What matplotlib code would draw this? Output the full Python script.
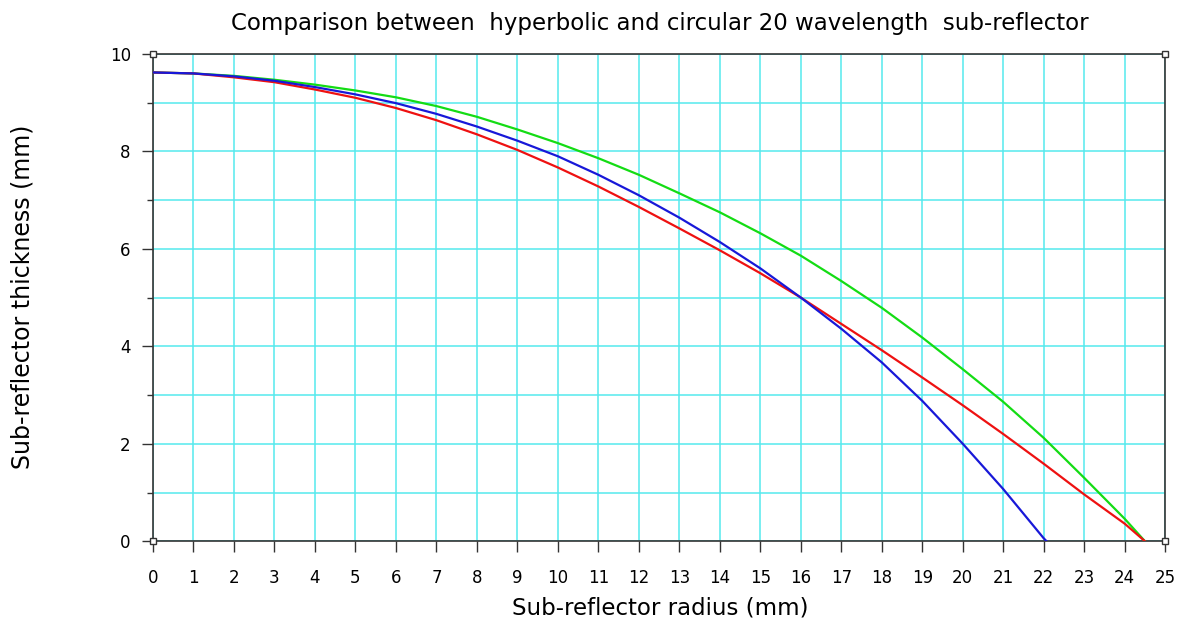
import matplotlib.pyplot as plt
import numpy as np

# radius (mm) and thickness (mm)
radius = [0, 1, 2, 3, 4, 5, 6, 7, 8, 9, 10, 11, 12, 13, 14, 15, 16,
          17, 18, 19, 20, 21, 22, 23, 24, 24.5]
red_thick = [9.62, 9.60, 9.52, 9.42, 9.27, 9.10, 8.89, 8.64, 8.35, 8.03,
             7.67, 7.28, 6.86, 6.42, 5.97, 5.50, 5.00, 4.46, 3.92, 3.36,
             2.79, 2.20, 1.59, 0.96, 0.36, 0.0]
green_thick = [9.62, 9.60, 9.55, 9.47, 9.37, 9.25, 9.11, 8.93, 8.71, 8.45,
               8.17, 7.86, 7.52, 7.14, 6.75, 6.32, 5.86, 5.34, 4.79, 4.18,
               3.53, 2.86, 2.12, 1.30, 0.46, 0.0]
blue_radius = [0, 1, 2, 3, 4, 5, 6, 7, 8, 9, 10, 11, 12, 13, 14, 15, 16,
               17, 18, 19, 20, 21, 22, 22.07]
blue_thick = [9.62, 9.60, 9.54, 9.45, 9.32, 9.17, 8.99, 8.77, 8.51, 8.22,
              7.90, 7.52, 7.10, 6.64, 6.14, 5.60, 5.00, 4.36, 3.67, 2.88,
              2.00, 1.07, 0.06, 0.0]

x_ticks = list(range(0, 26))
y_major = [0, 2, 4, 6, 8, 10]
y_minor = [1, 3, 5, 7, 9]

fig = plt.figure(figsize=(11.77, 6.2), dpi=100)
ax = fig.add_axes([0.130, 0.127, 0.860, 0.786])

grid_col = '#55eaee'
ax.plot(radius, green_thick, color='#14dc14', linewidth=1.6, zorder=3)
ax.plot(radius, red_thick, color='#ee1111', linewidth=1.6, zorder=4)
ax.plot(blue_radius, blue_thick, color='#1818d8', linewidth=1.6, zorder=5)

ax.set_xlim(0, 25)
ax.set_ylim(0, 10)
ax.set_xticks(x_ticks)
ax.set_yticks(y_major)
ax.set_yticks(y_minor, minor=True)
ax.grid(True, which='both', color=grid_col, linewidth=1.1, zorder=0)
ax.set_axisbelow(True)

ax.tick_params(axis='both', which='major', direction='out', length=8,
               width=1, color='#333333', labelsize=12, pad=8)
ax.tick_params(axis='x', which='major', pad=12)
ax.tick_params(axis='y', which='minor', direction='out', length=4,
               width=1, color='#333333')
for s in ax.spines.values():
    s.set_color('#333333')
    s.set_linewidth(1.2)

# small square markers at the axes corners
ax.plot([0, 0, 1, 1], [0, 1, 0, 1], 's', ms=4, mfc='white', mec='#333333',
        transform=ax.transAxes, clip_on=False, zorder=6)

fig.text(0.561, 0.962, 'Comparison between  hyperbolic and circular 20 wavelength  sub-reflector',
         ha='center', va='center', fontsize=16.5)
fig.text(0.561, 0.020, 'Sub-reflector radius (mm)', ha='center', va='center', fontsize=16.5)
fig.text(0.019, 0.522, 'Sub-reflector thickness (mm)', ha='center', va='center',
         rotation=90, fontsize=17)

fig.savefig('out.png', dpi=100)
